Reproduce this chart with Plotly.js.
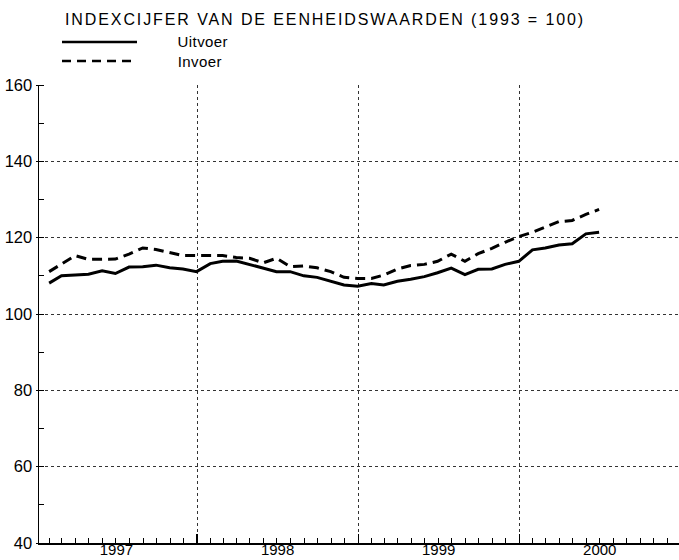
<!DOCTYPE html>
<html>
<head>
<meta charset="utf-8">
<script src="https://cdn.plot.ly/plotly-3.0.1.min.js"></script>
<style>
html,body{margin:0;padding:0;background:#fff;}
#chart{width:679px;height:560px;}
#chart .gtitle{letter-spacing:1.9px;}
#chart .annotation-text{letter-spacing:0.4px;}
</style>
</head>
<body>
<div id="chart"></div>
<script>
// Monthly observations, plotted at month end (Jan 1997 - Jun 2000)
var months = [
  '1997-01-31','1997-02-28','1997-03-31','1997-04-30','1997-05-31','1997-06-30',
  '1997-07-31','1997-08-31','1997-09-30','1997-10-31','1997-11-30','1997-12-31',
  '1998-01-31','1998-02-28','1998-03-31','1998-04-30','1998-05-31','1998-06-30',
  '1998-07-31','1998-08-31','1998-09-30','1998-10-31','1998-11-30','1998-12-31',
  '1999-01-31','1999-02-28','1999-03-31','1999-04-30','1999-05-31','1999-06-30',
  '1999-07-31','1999-08-31','1999-09-30','1999-10-31','1999-11-30','1999-12-31',
  '2000-01-31','2000-02-29','2000-03-31','2000-04-30','2000-05-31','2000-06-30'
];
var uitvoer = [
  108.1,110.0,110.2,110.4,111.3,110.6,112.3,112.4,112.8,112.1,111.8,111.1,
  113.2,113.8,113.9,113.0,112.0,111.1,111.1,110.0,109.6,108.6,107.6,107.3,
  108.0,107.6,108.6,109.1,109.8,110.8,112.0,110.3,111.7,111.8,113.0,113.8,
  116.8,117.3,118.1,118.4,121.0,121.4
];
var invoer = [
  111.1,113.2,115.3,114.3,114.4,114.4,115.7,117.3,116.9,116.0,115.3,115.3,
  115.4,115.3,114.8,114.6,113.4,114.6,112.4,112.6,112.1,111.1,109.6,109.3,
  109.3,110.2,111.8,112.7,113.0,113.8,115.7,113.8,115.8,117.2,118.8,120.3,
  121.4,122.7,124.2,124.5,126.1,127.4
];
var seriesNames = ['Uitvoer','Invoer'];
var titleText = 'INDEXCIJFER VAN DE EENHEIDSWAARDEN (1993 = 100)';

var FONT = 'Liberation Sans, Arial, Helvetica, sans-serif';

var traces = [
  {x: months, y: uitvoer, name: seriesNames[0], type: 'scatter', mode: 'lines',
   line: {color: '#000', width: 3}, showlegend: false},
  {x: months, y: invoer, name: seriesNames[1], type: 'scatter', mode: 'lines',
   line: {color: '#000', width: 3, dash: '10px,6px'}, showlegend: false}
];

var layout = {
  width: 679, height: 560,
  margin: {l: 39, r: 0, t: 85, b: 17, pad: 0},
  paper_bgcolor: '#fff', plot_bgcolor: '#fff',
  font: {family: FONT, color: '#000', size: 14},
  title: {text: titleText, x: 65/679, xanchor: 'left', xref: 'container',
          y: 1 - 19/560, yanchor: 'middle', yref: 'container',
          font: {family: FONT, size: 16, color: '#000'}},
  xaxis: {
    type: 'date', range: ['1997-01-08', '2000-12-28'],
    tick0: '1997-01-01', dtick: 'M12', tickformat: '%Y', ticklabelmode: 'period',
    showgrid: true, griddash: 'dot', gridcolor: '#333', gridwidth: 1,
    ticks: 'inside', ticklen: 9, tickcolor: '#000', tickwidth: 1.2,
    ticklabelstandoff: -8,
    showline: true, linecolor: '#000', linewidth: 1.5, zeroline: false,
    tickfont: {family: FONT, size: 15, color: '#000'},
    minor: {dtick: 'M1', ticks: 'inside', ticklen: 5, tickcolor: '#000', tickwidth: 1, showgrid: false},
    fixedrange: true
  },
  yaxis: {
    range: [40, 160], dtick: 20, tick0: 40,
    showgrid: true, griddash: 'dot', gridcolor: '#333', gridwidth: 1,
    ticks: 'outside', ticklen: 2, tickcolor: '#000',
    showline: true, linecolor: '#000', linewidth: 1.5, zeroline: false,
    tickfont: {family: FONT, size: 16.5, color: '#000'},
    minor: {dtick: 10, ticks: 'inside', ticklen: 5, tickcolor: '#000', showgrid: false},
    fixedrange: true
  },
  showlegend: false,
  shapes: [
    {type: 'line', xref: 'paper', yref: 'paper', x0: 23/640, x1: 98/640,
     y0: (543-42)/458, y1: (543-42)/458, line: {color: '#000', width: 2.5}},
    {type: 'line', xref: 'paper', yref: 'paper', x0: 23/640, x1: 98/640,
     y0: (543-61)/458, y1: (543-61)/458, line: {color: '#000', width: 2.5, dash: '9px,6px'}}
  ],
  annotations: [
    {text: seriesNames[0], xref: 'paper', yref: 'paper', x: 138/640, y: (543-42)/458,
     xanchor: 'left', yanchor: 'middle', showarrow: false, font: {family: FONT, size: 15, color: '#000'}},
    {text: seriesNames[1], xref: 'paper', yref: 'paper', x: 138/640, y: (543-61)/458,
     xanchor: 'left', yanchor: 'middle', showarrow: false, font: {family: FONT, size: 15, color: '#000'}}
  ]
};

Plotly.newPlot('chart', traces, layout, {displayModeBar: false, staticPlot: true});
</script>
</body>
</html>
